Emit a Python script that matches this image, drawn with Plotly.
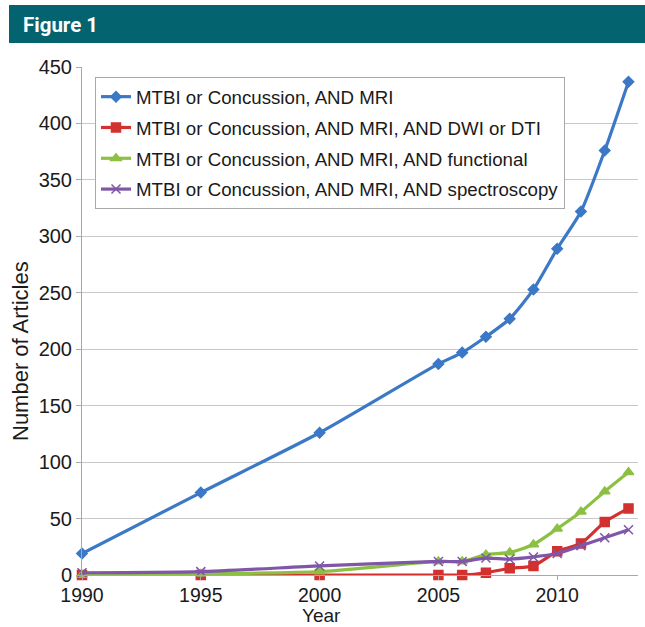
import plotly.graph_objects as go

years = [1990, 1995, 2000, 2005, 2006, 2007, 2008, 2009, 2010, 2011, 2012, 2013]
mri = [19, 73, 126, 187, 197, 211, 227, 253, 289, 322, 376, 437]
dwi_dti = [0, 0, 0, 0, 0, 2, 6, 8, 21, 28, 47, 59]
functional = [0, 1, 3, 12, 12, 18, 20, 27, 41, 56, 74, 91]
spectroscopy = [2, 3, 8, 12, 12, 15, 14, 16, 19, 26, 33, 40]

names = [
    "MTBI or Concussion, AND MRI",
    "MTBI or Concussion, AND MRI, AND DWI or DTI",
    "MTBI or Concussion, AND MRI, AND functional",
    "MTBI or Concussion, AND MRI, AND spectroscopy",
]
series = [mri, dwi_dti, functional, spectroscopy]
colors = ["#3b78c6", "#d2312f", "#8cc043", "#7f56a8"]
symbols = ["diamond", "square", "triangle-up", "x-thin"]
sizes = [8, 9, 9, 9]
y_ticks = list(range(0, 451, 50))
x_ticks = [1990, 1995, 2000, 2005, 2010]

FONT = "Liberation Sans, Arial, Helvetica, sans-serif"

# plot area in pixels: x 82..638, y 67..575
L, R, T, B = 82, 638, 67, 575
W, H = R - L, B - T


def px(x):
    return (x - L) / W


def py(y):
    return (B - y) / H


fig = go.Figure()
for i, (nm, ys) in enumerate(zip(names, series)):
    fig.add_trace(go.Scatter(
        x=years, y=ys, name=nm, mode="lines+markers",
        line=dict(color=colors[i], width=3.2, shape="spline", smoothing=0.6),
        marker=dict(symbol=symbols[i], size=sizes[i], color=colors[i],
                    line=dict(color=colors[i], width=1.5)),
        legendgroup=f"g{i}", cliponaxis=False,
    ))

fig.update_layout(
    width=645, height=627,
    margin=dict(l=L, r=645 - R, t=T, b=627 - B, autoexpand=False),
    paper_bgcolor="white", plot_bgcolor="white",
    font=dict(family=FONT, size=20, color="#1a1a1a"),
    showlegend=True,
    legend=dict(
        x=px(95), y=py(77), xanchor="left", yanchor="top",
        bordercolor="#a8a8a8", borderwidth=1, bgcolor="white",
        font=dict(family=FONT, size=18.7, color="#1a1a1a"),
        traceorder="grouped", tracegroupgap=3.5,
        itemwidth=30,
    ),
    xaxis=dict(
        range=[1990, 2013.4], tickvals=x_ticks, ticktext=[str(t) for t in x_ticks],
        showgrid=False, zeroline=False, automargin=False,
        showline=True, linecolor="#a8a8a8", linewidth=1,
        ticks="outside", ticklen=4, tickcolor="#a8a8a8",
        ticklabelstandoff=-1,
        tickfont=dict(size=19.5),
    ),
    yaxis=dict(
        range=[0, 450], tickvals=y_ticks, automargin=False,
        showgrid=True, gridcolor="#c8c8c8", gridwidth=1, zeroline=False,
        showline=True, linecolor="#a8a8a8", linewidth=1,
        ticks="outside", ticklen=5, tickcolor="#a8a8a8",
        tickfont=dict(size=20),
    ),
    shapes=[dict(
        type="rect", xref="paper", yref="paper",
        x0=px(9), x1=px(650), y0=py(43), y1=py(5),
        fillcolor="#03636f", line=dict(width=0), layer="above",
    )],
    annotations=[
        dict(text="<b>Figure 1</b>", xref="paper", yref="paper",
             x=px(21), y=py(25), xanchor="left", yanchor="middle", showarrow=False,
             font=dict(family="Roboto, Liberation Sans, sans-serif",
                       size=20.5, color="white")),
        dict(text="Year", xref="paper", yref="paper",
             x=px(321), y=py(627), xanchor="center", yanchor="bottom", showarrow=False,
             borderpad=0,
             font=dict(family=FONT, size=19, color="#1a1a1a")),
        dict(text="Number of Articles", xref="paper", yref="paper", textangle=-90,
             x=px(20), y=py(351), xanchor="center", yanchor="middle", showarrow=False,
             font=dict(family=FONT, size=22, color="#1a1a1a")),
    ],
)

fig.write_html("out.html", config={"displayModeBar": False},
               post_script="document.body.style.margin='0';document.body.style.overflow='hidden';")
